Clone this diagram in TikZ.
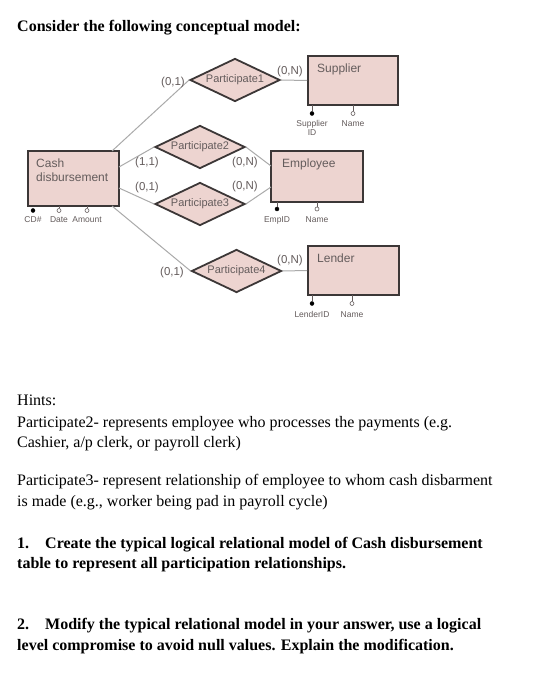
\documentclass[tikz,border=0pt]{standalone}
\usepackage{fontspec}
\setmainfont{Liberation Serif}
\newfontfamily\diag{Liberation Sans}
\usetikzlibrary{shapes.geometric,calc}
\definecolor{pinkfill}{RGB}{237,212,208}
\definecolor{edgedark}{RGB}{60,55,55}
\definecolor{linegray}{RGB}{170,170,170}
\definecolor{txtgray}{RGB}{100,92,92}
\begin{document}
\begin{tikzpicture}[x=1pt,y=-1pt,
  entity/.style={draw=edgedark,line width=1.8pt,fill=pinkfill,rectangle,inner sep=0pt},
  rel/.style={draw=edgedark,line width=1.8pt,fill=pinkfill,diamond,inner sep=0pt,minimum width=90pt,minimum height=43pt,aspect=2.1,font=\diag\fontsize{11}{12}\selectfont,text=txtgray},
  ename/.style={anchor=north west,inner sep=0pt,font=\diag\fontsize{12}{13.5}\selectfont,text=txtgray,align=left},
  card/.style={inner sep=0pt,font=\diag\fontsize{11.5}{12}\selectfont,text=txtgray},
  conn/.style={draw=linegray,line width=1pt},
  attr/.style={inner sep=0pt,font=\diag\fontsize{8.5}{9.5}\selectfont,text=txtgray,align=center,anchor=north},
  keyc/.style={circle,fill=black,draw=black,inner sep=0pt,minimum size=4pt},
  nkeyc/.style={circle,fill=white,draw=txtgray,line width=0.6pt,inner sep=0pt,minimum size=4pt},
  stem/.style={draw=txtgray,line width=0.6pt},
  body/.style={anchor=base west,inner sep=0pt,font=\fontsize{16}{18}\selectfont},
  bbody/.style={anchor=base west,inner sep=0pt,font=\bfseries\fontsize{16}{18}\selectfont}
]
\useasboundingbox (0,0) rectangle (532,700);
\fill[white] (0,0) rectangle (532,700);

\node[bbody] (title) at (17,32) {Consider the following conceptual model:};

% entities
\node[entity,minimum width=91pt,minimum height=55pt] (cash) at (73.5,178.5) {};
\node[ename] (cashlbl) at (36,159) {Cash\\disbursement};
\node[entity,minimum width=90pt,minimum height=49pt] (supplier) at (353,80.5) {};
\node[ename] (suplbl) at (317,64) {Supplier};
\node[entity,minimum width=92pt,minimum height=51pt] (employee) at (317,176.5) {};
\node[ename] (emplbl) at (282,159) {Employee};
\node[entity,minimum width=91pt,minimum height=49pt] (lender) at (353.5,270.5) {};
\node[ename] (lenlbl) at (317,254) {Lender};

% connector end points on Cash disbursement and Employee
\coordinate (c1) at (112,151);
\coordinate (c2) at (119,167);
\coordinate (c3) at (119,188);
\coordinate (c4) at (112,206);
\coordinate (e2) at (271,166);
\coordinate (e3) at (271,187);

% relationships (named, invisible first for anchors)
\node[rel,draw=none,fill=none,text opacity=0] (p1) at (235,80) {Participate1};
\node[rel,draw=none,fill=none,text opacity=0] (p2) at (200,147) {Participate2};
\node[rel,draw=none,fill=none,text opacity=0] (p3) at (200,204) {Participate3};
\node[rel,draw=none,fill=none,text opacity=0] (p4) at (236.5,271) {Participate4};

% connectors
\draw[conn] (c1) -- (p1.west);
\draw[conn] (c2) -- (p2.west);
\draw[conn] (c3) -- (p3.west);
\draw[conn] (c4) -- (p4.west);
\draw[conn] (p1.east) -- (supplier.west);
\draw[conn] (p2.east) -- (e2);
\draw[conn] (p3.east) -- (e3);
\draw[conn] (p4.east) -- (lender.west);

% visible relationship diamonds
\node[rel] (p1v) at (p1) {Participate1};
\node[rel] (p2v) at (p2) {Participate2};
\node[rel] (p3v) at (p3) {Participate3};
\node[rel] (p4v) at (p4) {Participate4};

% cardinalities
\node[card] (k1) at (173,83) {(0,1)};
\node[card] (k2) at (290,72) {(0,N)};
\node[card] (k3) at (147,163) {(1,1)};
\node[card] (k4) at (245,163) {(0,N)};
\node[card] (k5) at (147,188) {(0,1)};
\node[card] (k6) at (245,187) {(0,N)};
\node[card] (k7) at (172,273) {(0,1)};
\node[card] (k8) at (290,261) {(0,N)};

% attributes: cash
\coordinate (ca1) at (33,206); \coordinate (ca2) at (59,206); \coordinate (ca3) at (87,206);
\node[keyc] (ca1c) at (33,210.5) {};
\node[nkeyc] (ca2c) at (59,210.5) {};
\node[nkeyc] (ca3c) at (87,210.5) {};
\draw[stem] (ca2) -- (ca2c.north); \draw[stem] (ca3) -- (ca3c.north);
\node[attr] (ca1l) at (33,216) {CD\#};
\node[attr] (ca2l) at (59,216) {Date};
\node[attr] (ca3l) at (87,216) {Amount};

% attributes: supplier
\coordinate (sa1) at (312,105); \coordinate (sa2) at (353,105);
\node[keyc] (sa1c) at (312,113.5) {};
\node[nkeyc] (sa2c) at (353,113.5) {};
\draw[stem] (sa1) -- (sa1c.north); \draw[stem] (sa2) -- (sa2c.north);
\node[attr] (sa1l) at (312,120) {Supplier\\ID};
\node[attr] (sa2l) at (353,120) {Name};

% attributes: employee
\coordinate (ea1) at (277,202); \coordinate (ea2) at (317,202);
\node[keyc] (ea1c) at (277,209) {};
\node[nkeyc] (ea2c) at (317,209) {};
\draw[stem] (ea1) -- (ea1c.north); \draw[stem] (ea2) -- (ea2c.north);
\node[attr] (ea1l) at (277,216) {EmpID};
\node[attr] (ea2l) at (317,216) {Name};

% attributes: lender
\coordinate (la1) at (312,295); \coordinate (la2) at (352,295);
\node[keyc] (la1c) at (312,303.5) {};
\node[nkeyc] (la2c) at (352,303.5) {};
\draw[stem] (la1) -- (la1c.north); \draw[stem] (la2) -- (la2c.north);
\node[attr] (la1l) at (312,311) {LenderID};
\node[attr] (la2l) at (352,311) {Name};

% text
\node[body] (h0) at (17,405) {Hints:};
\node[body] (h1) at (17,427) {Participate2- represents employee who processes the payments (e.g.};
\node[body] (h2) at (17,447) {Cashier, a/p clerk, or payroll clerk)};
\node[body] (h3) at (17,485) {Participate3- represent relationship of employee to whom cash disbarment};
\node[body] (h4) at (17,506) {is made (e.g., worker being pad in payroll cycle)};

\node[bbody] (q1n) at (17,548) {1.};
\node[bbody] (q1a) at (45,548) {Create the typical logical relational model of Cash disbursement};
\node[bbody] (q1b) at (17,568) {table to represent all participation relationships.};
\node[bbody] (q2n) at (17,629) {2.};
\node[bbody] (q2a) at (45,629) {Modify the typical relational model in your answer, use a logical};
\node[bbody] (q2b) at (17,650) {level compromise to avoid null values. Explain the modification.};
\end{tikzpicture}
\end{document}
